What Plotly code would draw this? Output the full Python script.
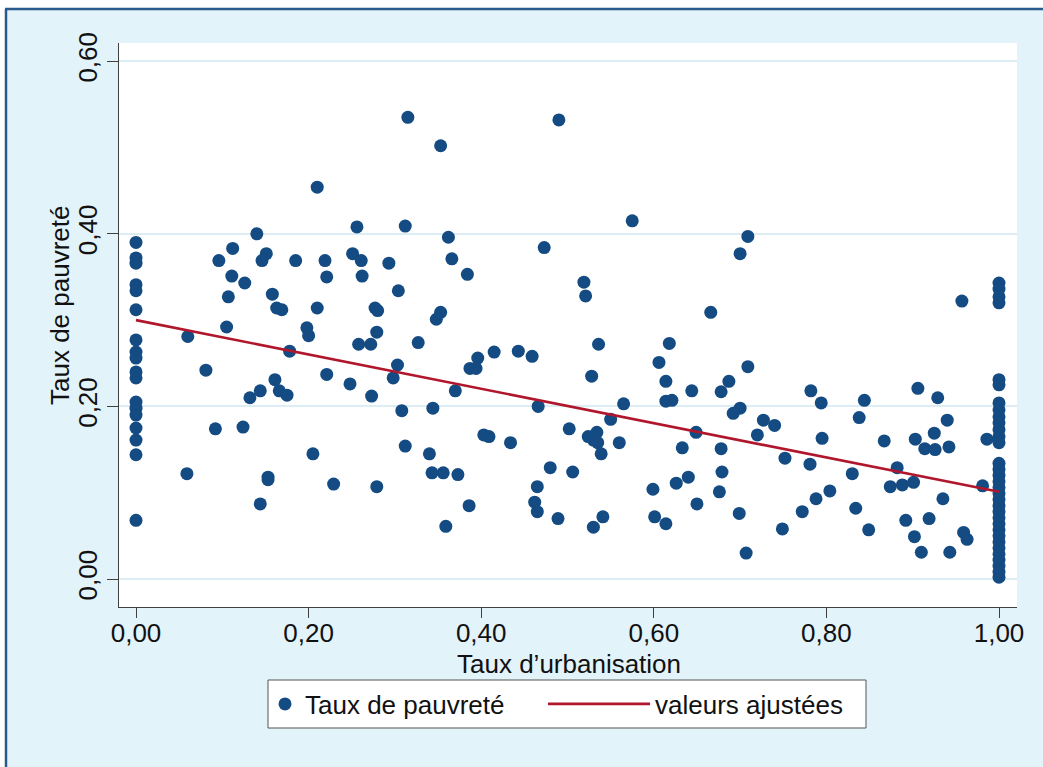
import plotly.graph_objects as go

# ---------------- data ----------------
# points with urbanisation rate = 0
col0_y = [0.390, 0.372, 0.366, 0.341, 0.334, 0.312, 0.277, 0.263, 0.256, 0.240,
          0.233, 0.205, 0.198, 0.190, 0.175, 0.161, 0.144, 0.068]
# points with urbanisation rate = 1
col1_y = [0.343, 0.336, 0.327, 0.320, 0.231, 0.225, 0.204, 0.196, 0.188, 0.181,
          0.173, 0.165, 0.158, 0.134, 0.127, 0.120, 0.113, 0.106, 0.099, 0.092,
          0.085, 0.078, 0.071, 0.064, 0.057, 0.050, 0.043, 0.036, 0.029, 0.022,
          0.015, 0.008, 0.002]
# points in between
mid_x = [0.315, 0.210, 0.256, 0.312, 0.140, 0.112, 0.096, 0.151, 0.146, 0.185,
         0.219, 0.251, 0.261, 0.293, 0.111, 0.126, 0.221, 0.262, 0.158, 0.304,
         0.107, 0.163, 0.169, 0.210, 0.277, 0.280, 0.105, 0.198, 0.200, 0.279, 0.060,
         0.258, 0.272, 0.327, 0.178, 0.081, 0.303, 0.298, 0.221, 0.161, 0.248,
         0.144, 0.132, 0.166, 0.175, 0.273, 0.308, 0.092, 0.124, 0.312, 0.205,
         0.059, 0.153, 0.153, 0.229, 0.279, 0.144,
         0.353, 0.490, 0.362, 0.366, 0.384, 0.473, 0.575, 0.519, 0.521, 0.353, 0.348,
         0.396, 0.387, 0.394, 0.415, 0.443, 0.459, 0.536, 0.528, 0.618, 0.606,
         0.614, 0.614, 0.621, 0.644, 0.370, 0.344, 0.466, 0.565, 0.550, 0.649,
         0.340, 0.403, 0.409, 0.434, 0.502, 0.524, 0.534, 0.530, 0.535, 0.560,
         0.539, 0.633, 0.343, 0.356, 0.373, 0.480, 0.506, 0.640, 0.626, 0.599,
         0.650, 0.465, 0.462, 0.465, 0.386, 0.489, 0.541, 0.530, 0.601, 0.614, 0.359,
         0.709, 0.700, 0.666, 0.957,
         0.709, 0.687, 0.678, 0.700, 0.692, 0.727, 0.740, 0.720, 0.678, 0.679,
         0.676, 0.699, 0.707, 0.752, 0.749, 0.782, 0.794, 0.795, 0.781, 0.804,
         0.788, 0.772, 0.834, 0.830, 0.844, 0.838, 0.849, 0.867, 0.882, 0.874,
         0.888, 0.901, 0.892, 0.902, 0.910, 0.906, 0.903, 0.914, 0.926, 0.925,
         0.929, 0.940, 0.942, 0.935, 0.919, 0.943, 0.959, 0.963, 0.986, 0.981]
mid_y = [0.535, 0.454, 0.408, 0.409, 0.400, 0.383, 0.369, 0.377, 0.369, 0.369,
         0.369, 0.377, 0.369, 0.366, 0.351, 0.343, 0.350, 0.351, 0.330, 0.334,
         0.327, 0.314, 0.312, 0.314, 0.314, 0.311, 0.292, 0.291, 0.282, 0.286, 0.281,
         0.272, 0.272, 0.274, 0.264, 0.242, 0.248, 0.233, 0.237, 0.231, 0.226,
         0.218, 0.210, 0.218, 0.213, 0.212, 0.195, 0.174, 0.176, 0.154, 0.145,
         0.122, 0.118, 0.115, 0.110, 0.107, 0.087,
         0.502, 0.532, 0.396, 0.371, 0.353, 0.384, 0.415, 0.344, 0.328, 0.309, 0.301,
         0.256, 0.244, 0.244, 0.263, 0.264, 0.258, 0.272, 0.235, 0.273, 0.251,
         0.229, 0.206, 0.207, 0.218, 0.218, 0.198, 0.200, 0.203, 0.185, 0.170,
         0.145, 0.167, 0.165, 0.158, 0.174, 0.165, 0.170, 0.161, 0.158, 0.158,
         0.145, 0.152, 0.123, 0.123, 0.121, 0.129, 0.124, 0.118, 0.111, 0.104,
         0.087, 0.107, 0.089, 0.078, 0.085, 0.070, 0.072, 0.060, 0.072, 0.064, 0.061,
         0.397, 0.377, 0.309, 0.322,
         0.246, 0.229, 0.217, 0.198, 0.192, 0.184, 0.178, 0.167, 0.151, 0.124,
         0.101, 0.076, 0.030, 0.140, 0.058, 0.218, 0.204, 0.163, 0.133, 0.102,
         0.093, 0.078, 0.082, 0.122, 0.207, 0.187, 0.057, 0.160, 0.129, 0.107,
         0.109, 0.112, 0.068, 0.049, 0.031, 0.221, 0.162, 0.151, 0.150, 0.169,
         0.210, 0.184, 0.153, 0.093, 0.070, 0.031, 0.054, 0.046, 0.162, 0.108]

# fitted values (linear fit) at the ends of the x range
fit_x = [0.0, 1.0]
fit_y = [0.300, 0.101]

tick_vals = [0.0, 0.2, 0.4, 0.6, 0.8, 1.0]
x_tick_text = ["0,00", "0,20", "0,40", "0,60", "0,80", "1,00"]
y_tick_vals = [0.0, 0.2, 0.4, 0.6]
y_tick_text = ["0,00", "0,20", "0,40", "0,60"]

x_title = "Taux d\u2019urbanisation"
y_title = "Taux de pauvret\u00e9"
name_points = "Taux de pauvret\u00e9"
name_fit = "valeurs ajust\u00e9es"

# ---------------- figure ----------------
W, H = 1043, 767
L, R, T, B = 119, 26, 43, 160
PW, PH = W - L - R, H - T - B
BOTTOM = T + PH


def fx(px):
    return (px - L) / PW


def fy(py):
    return (BOTTOM - py) / PH


FONT = "Liberation Sans, Arial, sans-serif"
FS = 26
NAVY = "#134b82"
RED = "#b0172c"
BG = "#e2f3fa"
GRID = "#dcedf5"
AX = "#404040"
TXT = "#111111"

all_x = [0.0] * len(col0_y) + mid_x + [1.0] * len(col1_y)
all_y = col0_y + mid_y + col1_y

fig = go.Figure()
fig.add_trace(go.Scatter(
    x=all_x, y=all_y, mode="markers", name=name_points,
    marker=dict(color=NAVY, size=13, line=dict(width=0)),
    legend="legend",
))
fig.add_trace(go.Scatter(
    x=fit_x, y=fit_y, mode="lines", name=name_fit,
    line=dict(color=RED, width=2.6),
    legend="legend2",
))

shapes = [
    # white strip above the frame and on the left
    dict(type="rect", xref="paper", yref="paper", x0=fx(0), x1=fx(W), y0=fy(8), y1=fy(0),
         fillcolor="white", line=dict(width=0), layer="below"),
    dict(type="rect", xref="paper", yref="paper", x0=fx(0), x1=fx(5), y0=fy(H), y1=fy(0),
         fillcolor="white", line=dict(width=0), layer="below"),
    # dark blue frame lines
    dict(type="line", xref="paper", yref="paper", x0=fx(5), x1=fx(W), y0=fy(9), y1=fy(9),
         line=dict(color="#2b5b8c", width=2.5), layer="below"),
    dict(type="line", xref="paper", yref="paper", x0=fx(6), x1=fx(6), y0=fy(H), y1=fy(9),
         line=dict(color="#2b5b8c", width=2.5), layer="below"),
    # legend box
    dict(type="rect", xref="paper", yref="paper", x0=fx(268), x1=fx(866), y0=fy(728), y1=fy(680),
         fillcolor="white", line=dict(color="#555555", width=1), layer="below"),
]

annotations = [
    dict(text=y_title, xref="paper", yref="paper", x=fx(60), y=fy(306),
         xanchor="center", yanchor="middle", textangle=-90, showarrow=False,
         font=dict(family=FONT, size=FS, color=TXT)),
    dict(text=x_title, xref="paper", yref="paper", x=fx(569), y=fy(664),
         xanchor="center", yanchor="middle", showarrow=False,
         font=dict(family=FONT, size=FS, color=TXT)),
]

fig.update_layout(
    width=W, height=H,
    margin=dict(l=L, r=R, t=T, b=B, pad=0, autoexpand=False),
    paper_bgcolor=BG, plot_bgcolor="white",
    font=dict(family=FONT, size=FS, color=TXT),
    shapes=shapes, annotations=annotations,
    showlegend=True,
    legend=dict(orientation="h", x=fx(265), y=fy(704), xanchor="left", yanchor="middle",
                bgcolor="rgba(0,0,0,0)", borderwidth=0, itemwidth=30,
                font=dict(family=FONT, size=FS, color=TXT)),
    legend2=dict(orientation="h", x=fx(543), y=fy(704), xanchor="left", yanchor="middle",
                 bgcolor="rgba(0,0,0,0)", borderwidth=0, itemwidth=102,
                 font=dict(family=FONT, size=FS, color=TXT)),
    xaxis=dict(range=[(L - 136) / 863, (L + PW - 136) / 863], automargin=False,
               tickvals=tick_vals, ticktext=x_tick_text,
               showgrid=False, zeroline=False,
               showline=True, linecolor=AX, linewidth=1,
               ticks="outside", ticklen=10, tickcolor=AX, tickwidth=1,
               ticklabelstandoff=-7,
               tickfont=dict(family=FONT, size=FS, color=TXT)),
    yaxis=dict(range=[(579 - BOTTOM) / 863, (579 - T) / 863], automargin=False,
               tickvals=y_tick_vals, ticktext=y_tick_text, tickangle=-90,
               showgrid=True, gridcolor=GRID, gridwidth=2, zeroline=False,
               showline=True, linecolor=AX, linewidth=1,
               ticks="outside", ticklen=11, tickcolor=AX, tickwidth=1,
               tickfont=dict(family=FONT, size=FS, color=TXT)),
)

fig.write_html("out.html", config={"displayModeBar": False},
               post_script="document.body.style.margin='0px';")
